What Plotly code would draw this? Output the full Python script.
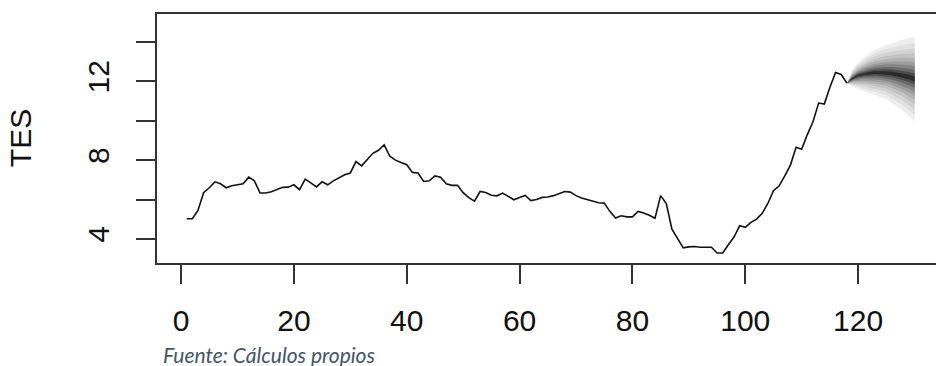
import plotly.graph_objects as go

# ---- observed series (t = 1..118) ----
obs_t = list(range(1, 119))
obs_y = [
    5.03, 5.03, 5.45, 6.35, 6.6, 6.9, 6.8, 6.6, 6.7, 6.75,
    6.8, 7.14, 6.95, 6.33, 6.33, 6.4, 6.5, 6.62, 6.63, 6.75,
    6.5, 7.04, 6.85, 6.64, 6.9, 6.75, 6.95, 7.1, 7.26, 7.35,
    7.93, 7.71, 8.05, 8.35, 8.5, 8.78, 8.2, 8.0, 7.88, 7.77,
    7.38, 7.35, 6.92, 6.95, 7.2, 7.14, 6.8, 6.72, 6.72, 6.35,
    6.1, 5.92, 6.41, 6.36, 6.22, 6.19, 6.33, 6.15, 5.99, 6.1,
    6.21, 5.95, 6.0, 6.11, 6.13, 6.2, 6.3, 6.41, 6.38, 6.2,
    6.08, 5.99, 5.9, 5.84, 5.82, 5.4, 5.06, 5.18, 5.12, 5.12,
    5.4, 5.32, 5.2, 5.05, 6.2, 5.8, 4.5, 4.0, 3.55, 3.6,
    3.62, 3.58, 3.58, 3.58, 3.29, 3.29, 3.71, 4.1, 4.67, 4.59,
    4.84, 5.01, 5.3, 5.8, 6.45, 6.7, 7.2, 7.75, 8.65, 8.56,
    9.3, 9.95, 10.9, 10.85, 11.7, 12.45, 12.35, 11.91,
]

# ---- forecast fan (t = 118..130) ----
fc_t = list(range(118, 131))
fc_mid = [11.91, 12.15, 12.3, 12.38, 12.42, 12.44, 12.44, 12.43, 12.4, 12.35, 12.3, 12.22, 12.12]
fc_hi = [11.91, 12.6, 12.95, 13.2, 13.43, 13.6, 13.75, 13.85, 13.95, 14.05, 14.13, 14.2, 14.27]
fc_lo = [11.91, 11.75, 11.6, 11.5, 11.4, 11.3, 11.2, 11.1, 10.9, 10.7, 10.5, 10.25, 9.96]

# band widths as fractions of the outer interval, light -> dark
band_frac = [1.0, 0.85, 0.72, 0.6, 0.49, 0.39, 0.3, 0.21, 0.13, 0.06]
band_col = ["#ededed", "#e0e0e0", "#d2d2d2", "#c2c2c2", "#b0b0b0",
            "#9c9c9c", "#858585", "#6a6a6a", "#4c4c4c", "#2c2c2c"]

x_ticks = [0, 20, 40, 60, 80, 100, 120]
y_tickvals = [4, 6, 8, 10, 12, 14]
y_ticktext = ["4", "", "8", "", "12", ""]

fig = go.Figure()

for f, c in zip(band_frac, band_col):
    up = [m + f * (h - m) for m, h in zip(fc_mid, fc_hi)]
    lo = [m - f * (m - l) for m, l in zip(fc_mid, fc_lo)]
    fig.add_trace(go.Scatter(
        x=fc_t + fc_t[::-1], y=up + lo[::-1], mode="lines",
        fill="toself", fillcolor=c, line=dict(width=0, color=c),
        hoverinfo="skip", showlegend=False))

fig.add_trace(go.Scatter(x=obs_t, y=obs_y, mode="lines",
                         line=dict(color="#111111", width=1.6),
                         showlegend=False))

axis_font = dict(family="Liberation Sans, Arial, sans-serif", size=30, color="#111111")

fig.update_xaxes(
    range=[-4.26, 133.8], tickvals=x_ticks, showgrid=False, zeroline=False,
    showline=True, linecolor="#333333", linewidth=1.5, mirror=True,
    ticks="outside", ticklen=19, tickwidth=1.5, tickcolor="#333333",
    tickfont=axis_font, ticklabelstandoff=11)
fig.update_yaxes(
    range=[2.78, 15.42], tickvals=y_tickvals, ticktext=y_ticktext,
    showgrid=False, zeroline=False,
    showline=True, linecolor="#333333", linewidth=1.5, mirror=False,
    ticks="outside", ticklen=19, tickwidth=1.5, tickcolor="#333333",
    tickfont=axis_font, tickangle=-90, ticklabelstandoff=15)

fig.add_annotation(text="TES", xref="paper", yref="paper",
                   x=-0.175, y=0.5, xanchor="center", yanchor="middle",
                   textangle=-90, showarrow=False, font=axis_font)
fig.add_annotation(text="<i>Fuente: Cálculos propios</i>", xref="paper", yref="paper",
                   x=0.005, y=-0.31, xanchor="left", yanchor="top",
                   showarrow=False,
                   font=dict(family="Lato, Open Sans, sans-serif", size=21, color="#44546A"))

fig.update_layout(width=936, height=366, margin=dict(l=157, r=0, t=14, b=103),
                  plot_bgcolor="white", paper_bgcolor="white")

fig.write_html("out.html")
